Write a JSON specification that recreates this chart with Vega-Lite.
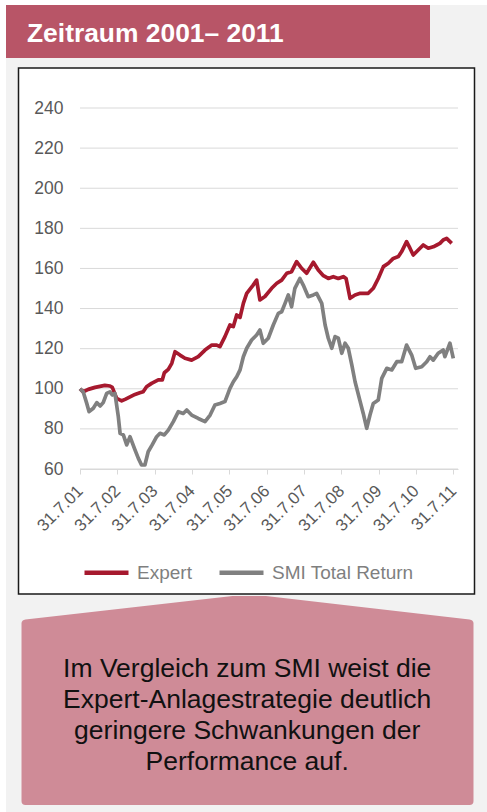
{
  "$schema": "https://vega.github.io/schema/vega-lite/v6.json",
  "background": "#ffffff",
  "autosize": {"type": "none"},
  "padding": {"left": 80, "top": 108, "right": 29, "bottom": 343},
  "width": 378,
  "height": 361,
  "config": {
    "font": "Liberation Sans",
    "view": {"stroke": null}
  },
  "layer": [
    {
      "data": {"values": [{"part": "page"}]},
      "mark": {"type": "point", "shape": "M-263,-283.5H218V523.5H-263Z", "size": 4, "filled": true, "color": "#f2f2f2", "strokeWidth": 0, "opacity": 1},
      "encoding": {}
    },
    {
      "data": {"values": [{"t": "Zeitraum 2001– 2011"}]},
      "mark": {"type": "point", "shape": "M-263,-283.5H161V-230.5H-263Z", "size": 4, "filled": true, "color": "#b85567", "strokeWidth": 0, "opacity": 1},
      "encoding": {}
    },
    {
      "data": {"values": [{"t": "Zeitraum 2001– 2011"}]},
      "mark": {"type": "text", "align": "left", "baseline": "alphabetic", "dx": -242, "dy": -247, "fontSize": 26.4, "fontWeight": "bold", "color": "#ffffff"},
      "encoding": {"text": {"field": "t"}}
    },
    {
      "data": {"values": [{"part": "chart box"}]},
      "mark": {"type": "point", "shape": "M-250.5,-220.5H205.5V305.5H-250.5Z", "size": 4, "filled": true, "fill": "#ffffff", "stroke": "#1a1a1a", "strokeWidth": 1.5, "opacity": 1},
      "encoding": {}
    },
    {
      "data": {"values": [{"t": "Im Vergleich zum SMI weist die\nExpert-Anlagestrategie deutlich\ngeringere Schwankungen der\nPerformance auf."}]},
      "mark": {"type": "point", "shape": "M-247.5,335Q-247.5,331.5 -243.5,331L-36.5,307.5L-3,307.5L200.5,331Q204.5,331.5 204.5,335L204.5,512.5Q204.5,516.5 200.5,516.5L-243.5,516.5Q-247.5,516.5 -247.5,512.5Z", "size": 4, "filled": true, "color": "#cf8b97", "strokeWidth": 0, "opacity": 1},
      "encoding": {}
    },
    {
      "data": {"values": [{"t": "Im Vergleich zum SMI weist die\nExpert-Anlagestrategie deutlich\ngeringere Schwankungen der\nPerformance auf."}]},
      "mark": {"type": "text", "align": "center", "baseline": "alphabetic", "dx": -21.8, "dy": 388.5, "lineBreak": "\n", "lineHeight": 31, "fontSize": 26.5, "color": "#111111"},
      "encoding": {"text": {"field": "t"}}
    },
    {
      "data": {"values": [{"g": 60}, {"g": 80}, {"g": 100}, {"g": 120}, {"g": 140}, {"g": 160}, {"g": 180}, {"g": 200}, {"g": 220}, {"g": 240}]},
      "mark": {"type": "rule", "color": "#d9d9d9", "strokeWidth": 1},
      "encoding": {"y": {"field": "g", "type": "quantitative", "title": null}}
    },
    {
      "data": {"values": [
        {"d": "2001-07-31", "s": "Expert", "v": 100},
        {"d": "2001-08-31", "s": "Expert", "v": 98.5},
        {"d": "2001-10-20", "s": "Expert", "v": 99.7},
        {"d": "2001-12-25", "s": "Expert", "v": 100.7},
        {"d": "2002-03-31", "s": "Expert", "v": 101.7},
        {"d": "2002-05-20", "s": "Expert", "v": 101.4},
        {"d": "2002-06-12", "s": "Expert", "v": 100.7},
        {"d": "2002-07-25", "s": "Expert", "v": 95.2},
        {"d": "2002-09-12", "s": "Expert", "v": 94},
        {"d": "2002-10-15", "s": "Expert", "v": 94.7},
        {"d": "2003-01-20", "s": "Expert", "v": 97.2},
        {"d": "2003-03-08", "s": "Expert", "v": 98},
        {"d": "2003-04-10", "s": "Expert", "v": 98.5},
        {"d": "2003-05-13", "s": "Expert", "v": 101},
        {"d": "2003-07-01", "s": "Expert", "v": 102.7},
        {"d": "2003-09-05", "s": "Expert", "v": 104.4},
        {"d": "2003-10-14", "s": "Expert", "v": 104.4},
        {"d": "2003-11-03", "s": "Expert", "v": 108},
        {"d": "2003-12-12", "s": "Expert", "v": 109.7},
        {"d": "2004-01-15", "s": "Expert", "v": 112.7},
        {"d": "2004-02-16", "s": "Expert", "v": 118.5},
        {"d": "2004-04-04", "s": "Expert", "v": 116.8},
        {"d": "2004-05-23", "s": "Expert", "v": 115.2},
        {"d": "2004-07-27", "s": "Expert", "v": 114.3},
        {"d": "2004-09-30", "s": "Expert", "v": 116},
        {"d": "2004-12-05", "s": "Expert", "v": 119.3},
        {"d": "2005-02-10", "s": "Expert", "v": 121.8},
        {"d": "2005-03-29", "s": "Expert", "v": 121.8},
        {"d": "2005-04-30", "s": "Expert", "v": 121},
        {"d": "2005-06-18", "s": "Expert", "v": 126},
        {"d": "2005-08-06", "s": "Expert", "v": 131.8},
        {"d": "2005-09-08", "s": "Expert", "v": 131},
        {"d": "2005-10-11", "s": "Expert", "v": 136.8},
        {"d": "2005-11-13", "s": "Expert", "v": 135.6},
        {"d": "2005-12-15", "s": "Expert", "v": 142.6},
        {"d": "2006-01-17", "s": "Expert", "v": 147.6},
        {"d": "2006-03-21", "s": "Expert", "v": 151.7},
        {"d": "2006-04-24", "s": "Expert", "v": 154.2},
        {"d": "2006-05-26", "s": "Expert", "v": 144.3},
        {"d": "2006-07-14", "s": "Expert", "v": 146},
        {"d": "2006-09-18", "s": "Expert", "v": 150.1},
        {"d": "2006-11-07", "s": "Expert", "v": 152.6},
        {"d": "2006-12-25", "s": "Expert", "v": 154.2},
        {"d": "2007-02-13", "s": "Expert", "v": 157.6},
        {"d": "2007-04-01", "s": "Expert", "v": 158.4},
        {"d": "2007-05-20", "s": "Expert", "v": 163.4},
        {"d": "2007-07-08", "s": "Expert", "v": 160.1},
        {"d": "2007-08-26", "s": "Expert", "v": 157.6},
        {"d": "2007-10-31", "s": "Expert", "v": 163.1},
        {"d": "2007-12-18", "s": "Expert", "v": 159.2},
        {"d": "2008-02-06", "s": "Expert", "v": 156.4},
        {"d": "2008-03-25", "s": "Expert", "v": 155},
        {"d": "2008-05-13", "s": "Expert", "v": 155.9},
        {"d": "2008-07-01", "s": "Expert", "v": 155},
        {"d": "2008-08-19", "s": "Expert", "v": 155.9},
        {"d": "2008-09-15", "s": "Expert", "v": 155},
        {"d": "2008-10-24", "s": "Expert", "v": 145.1},
        {"d": "2008-12-12", "s": "Expert", "v": 146.8},
        {"d": "2009-01-31", "s": "Expert", "v": 147.6},
        {"d": "2009-04-20", "s": "Expert", "v": 147.6},
        {"d": "2009-06-08", "s": "Expert", "v": 150.1},
        {"d": "2009-07-27", "s": "Expert", "v": 155},
        {"d": "2009-09-15", "s": "Expert", "v": 160.9},
        {"d": "2009-11-03", "s": "Expert", "v": 162.6},
        {"d": "2009-12-21", "s": "Expert", "v": 165},
        {"d": "2010-02-09", "s": "Expert", "v": 165.9},
        {"d": "2010-03-13", "s": "Expert", "v": 168.4},
        {"d": "2010-04-30", "s": "Expert", "v": 173.4},
        {"d": "2010-06-02", "s": "Expert", "v": 170.1},
        {"d": "2010-07-04", "s": "Expert", "v": 166.7},
        {"d": "2010-08-22", "s": "Expert", "v": 169.2},
        {"d": "2010-10-10", "s": "Expert", "v": 171.7},
        {"d": "2010-11-28", "s": "Expert", "v": 170.1},
        {"d": "2011-01-16", "s": "Expert", "v": 170.8},
        {"d": "2011-02-20", "s": "Expert", "v": 171.7},
        {"d": "2011-03-22", "s": "Expert", "v": 172.5},
        {"d": "2011-04-23", "s": "Expert", "v": 174.2},
        {"d": "2011-05-27", "s": "Expert", "v": 175},
        {"d": "2011-06-28", "s": "Expert", "v": 173.4},
        {"d": "2011-07-15", "s": "Expert", "v": 172.5},
        {"d": "2001-07-31", "s": "SMI Total Return", "v": 100},
        {"d": "2001-08-31", "s": "SMI Total Return", "v": 98.5},
        {"d": "2001-10-05", "s": "SMI Total Return", "v": 92.7},
        {"d": "2001-10-28", "s": "SMI Total Return", "v": 88.6},
        {"d": "2001-12-08", "s": "SMI Total Return", "v": 90.3},
        {"d": "2002-01-11", "s": "SMI Total Return", "v": 93.1},
        {"d": "2002-02-13", "s": "SMI Total Return", "v": 91.4},
        {"d": "2002-03-15", "s": "SMI Total Return", "v": 93.1},
        {"d": "2002-04-18", "s": "SMI Total Return", "v": 97.7},
        {"d": "2002-05-20", "s": "SMI Total Return", "v": 98.5},
        {"d": "2002-06-12", "s": "SMI Total Return", "v": 96.9},
        {"d": "2002-07-08", "s": "SMI Total Return", "v": 97.7},
        {"d": "2002-08-10", "s": "SMI Total Return", "v": 86},
        {"d": "2002-08-27", "s": "SMI Total Return", "v": 77.8},
        {"d": "2002-09-28", "s": "SMI Total Return", "v": 77},
        {"d": "2002-10-31", "s": "SMI Total Return", "v": 72},
        {"d": "2002-12-02", "s": "SMI Total Return", "v": 76.1},
        {"d": "2003-01-20", "s": "SMI Total Return", "v": 69.5},
        {"d": "2003-02-22", "s": "SMI Total Return", "v": 65.3},
        {"d": "2003-03-25", "s": "SMI Total Return", "v": 62},
        {"d": "2003-04-27", "s": "SMI Total Return", "v": 62},
        {"d": "2003-05-29", "s": "SMI Total Return", "v": 68.6},
        {"d": "2003-07-07", "s": "SMI Total Return", "v": 72},
        {"d": "2003-08-20", "s": "SMI Total Return", "v": 76.1},
        {"d": "2003-09-22", "s": "SMI Total Return", "v": 77.8},
        {"d": "2003-11-03", "s": "SMI Total Return", "v": 77},
        {"d": "2003-12-12", "s": "SMI Total Return", "v": 79.4},
        {"d": "2004-01-30", "s": "SMI Total Return", "v": 83.6},
        {"d": "2004-03-19", "s": "SMI Total Return", "v": 88.6},
        {"d": "2004-05-06", "s": "SMI Total Return", "v": 87.7},
        {"d": "2004-06-09", "s": "SMI Total Return", "v": 89.4},
        {"d": "2004-07-27", "s": "SMI Total Return", "v": 86.9},
        {"d": "2004-09-30", "s": "SMI Total Return", "v": 85.2},
        {"d": "2004-12-05", "s": "SMI Total Return", "v": 83.6},
        {"d": "2005-01-24", "s": "SMI Total Return", "v": 86.9},
        {"d": "2005-03-12", "s": "SMI Total Return", "v": 91.9},
        {"d": "2005-04-30", "s": "SMI Total Return", "v": 92.7},
        {"d": "2005-06-18", "s": "SMI Total Return", "v": 93.6},
        {"d": "2005-08-06", "s": "SMI Total Return", "v": 100.2},
        {"d": "2005-09-08", "s": "SMI Total Return", "v": 103.5},
        {"d": "2005-10-11", "s": "SMI Total Return", "v": 106},
        {"d": "2005-11-13", "s": "SMI Total Return", "v": 109.4},
        {"d": "2005-12-15", "s": "SMI Total Return", "v": 116},
        {"d": "2006-01-17", "s": "SMI Total Return", "v": 120.2},
        {"d": "2006-03-06", "s": "SMI Total Return", "v": 124.3},
        {"d": "2006-04-24", "s": "SMI Total Return", "v": 126.8},
        {"d": "2006-05-26", "s": "SMI Total Return", "v": 129.3},
        {"d": "2006-06-28", "s": "SMI Total Return", "v": 122.7},
        {"d": "2006-08-16", "s": "SMI Total Return", "v": 125.2},
        {"d": "2006-10-04", "s": "SMI Total Return", "v": 131.8},
        {"d": "2006-11-22", "s": "SMI Total Return", "v": 137.6},
        {"d": "2006-12-25", "s": "SMI Total Return", "v": 138.4},
        {"d": "2007-01-27", "s": "SMI Total Return", "v": 142.6},
        {"d": "2007-02-28", "s": "SMI Total Return", "v": 146.8},
        {"d": "2007-04-01", "s": "SMI Total Return", "v": 140.9},
        {"d": "2007-05-03", "s": "SMI Total Return", "v": 150.1},
        {"d": "2007-06-21", "s": "SMI Total Return", "v": 155},
        {"d": "2007-07-24", "s": "SMI Total Return", "v": 151.7},
        {"d": "2007-09-11", "s": "SMI Total Return", "v": 145.9},
        {"d": "2007-10-31", "s": "SMI Total Return", "v": 146.8},
        {"d": "2007-12-02", "s": "SMI Total Return", "v": 147.6},
        {"d": "2008-01-21", "s": "SMI Total Return", "v": 142.6},
        {"d": "2008-02-23", "s": "SMI Total Return", "v": 131.8},
        {"d": "2008-03-25", "s": "SMI Total Return", "v": 125.2},
        {"d": "2008-04-28", "s": "SMI Total Return", "v": 120.2},
        {"d": "2008-05-30", "s": "SMI Total Return", "v": 126},
        {"d": "2008-07-01", "s": "SMI Total Return", "v": 125.2},
        {"d": "2008-08-04", "s": "SMI Total Return", "v": 117.7},
        {"d": "2008-09-05", "s": "SMI Total Return", "v": 122.7},
        {"d": "2008-10-07", "s": "SMI Total Return", "v": 120.2},
        {"d": "2008-11-10", "s": "SMI Total Return", "v": 111.9},
        {"d": "2008-12-12", "s": "SMI Total Return", "v": 103.5},
        {"d": "2009-01-31", "s": "SMI Total Return", "v": 93.6},
        {"d": "2009-03-02", "s": "SMI Total Return", "v": 87.7},
        {"d": "2009-04-05", "s": "SMI Total Return", "v": 80.3},
        {"d": "2009-05-07", "s": "SMI Total Return", "v": 86.9},
        {"d": "2009-06-08", "s": "SMI Total Return", "v": 92.7},
        {"d": "2009-07-27", "s": "SMI Total Return", "v": 94.4},
        {"d": "2009-08-30", "s": "SMI Total Return", "v": 105.2},
        {"d": "2009-10-18", "s": "SMI Total Return", "v": 110.2},
        {"d": "2009-12-06", "s": "SMI Total Return", "v": 109.4},
        {"d": "2010-01-24", "s": "SMI Total Return", "v": 113.5},
        {"d": "2010-03-13", "s": "SMI Total Return", "v": 113.5},
        {"d": "2010-04-30", "s": "SMI Total Return", "v": 121.8},
        {"d": "2010-06-19", "s": "SMI Total Return", "v": 116.8},
        {"d": "2010-07-28", "s": "SMI Total Return", "v": 110.2},
        {"d": "2010-09-25", "s": "SMI Total Return", "v": 111},
        {"d": "2010-11-13", "s": "SMI Total Return", "v": 113.5},
        {"d": "2010-12-15", "s": "SMI Total Return", "v": 116},
        {"d": "2011-01-16", "s": "SMI Total Return", "v": 114.3},
        {"d": "2011-03-05", "s": "SMI Total Return", "v": 117.7},
        {"d": "2011-04-23", "s": "SMI Total Return", "v": 119.3},
        {"d": "2011-05-10", "s": "SMI Total Return", "v": 116},
        {"d": "2011-06-28", "s": "SMI Total Return", "v": 122.7},
        {"d": "2011-07-31", "s": "SMI Total Return", "v": 115.2}
      ]},
      "mark": {"type": "line", "strokeWidth": 3.7, "strokeJoin": "round"},
      "encoding": {
        "x": {
          "field": "d", "type": "temporal", "title": null,
          "scale": {"type": "utc", "nice": false, "domain": [{"year": 2001, "month": 7, "date": 31, "utc": true}, {"year": 2011, "month": 9, "date": 15, "utc": true}]},
          "axis": {
            "values": [
              {"year": 2001, "month": 7, "date": 31, "utc": true},
              {"year": 2002, "month": 7, "date": 31, "utc": true},
              {"year": 2003, "month": 7, "date": 31, "utc": true},
              {"year": 2004, "month": 7, "date": 31, "utc": true},
              {"year": 2005, "month": 7, "date": 31, "utc": true},
              {"year": 2006, "month": 7, "date": 31, "utc": true},
              {"year": 2007, "month": 7, "date": 31, "utc": true},
              {"year": 2008, "month": 7, "date": 31, "utc": true},
              {"year": 2009, "month": 7, "date": 31, "utc": true},
              {"year": 2010, "month": 7, "date": 31, "utc": true},
              {"year": 2011, "month": 7, "date": 31, "utc": true}
            ],
            "format": "%d.%-m.%y",
            "labelAngle": -45, "labelAlign": "right", "labelBaseline": "middle",
            "labelFontSize": 17, "labelColor": "#595959", "labelPadding": 14,
            "tickSize": 5, "tickColor": "#d9d9d9", "domainColor": "#d9d9d9", "domainWidth": 1,
            "grid": false, "zindex": 1, "labelOverlap": false
          }
        },
        "y": {
          "field": "v", "type": "quantitative", "title": null,
          "scale": {"domain": [60, 240], "nice": false, "zero": false},
          "axis": {
            "values": [60, 80, 100, 120, 140, 160, 180, 200, 220, 240],
            "ticks": false, "tickSize": 0, "domain": false, "grid": false,
            "labelPadding": 17, "labelFontSize": 17.5, "labelColor": "#595959", "zindex": 1
          }
        },
        "color": {
          "field": "s", "type": "nominal",
          "scale": {"domain": ["Expert", "SMI Total Return"], "range": ["#a6192e", "#808080"]},
          "legend": {
            "title": null, "orient": "none", "legendX": 2, "legendY": 440, "direction": "horizontal",
            "padding": 0, "symbolType": "stroke", "symbolSize": 1936, "symbolStrokeWidth": 4.5,
            "labelFontSize": 19, "labelColor": "#7f7f7f", "labelOffset": 6, "columnPadding": 18
          }
        }
      }
    }
  ]
}
